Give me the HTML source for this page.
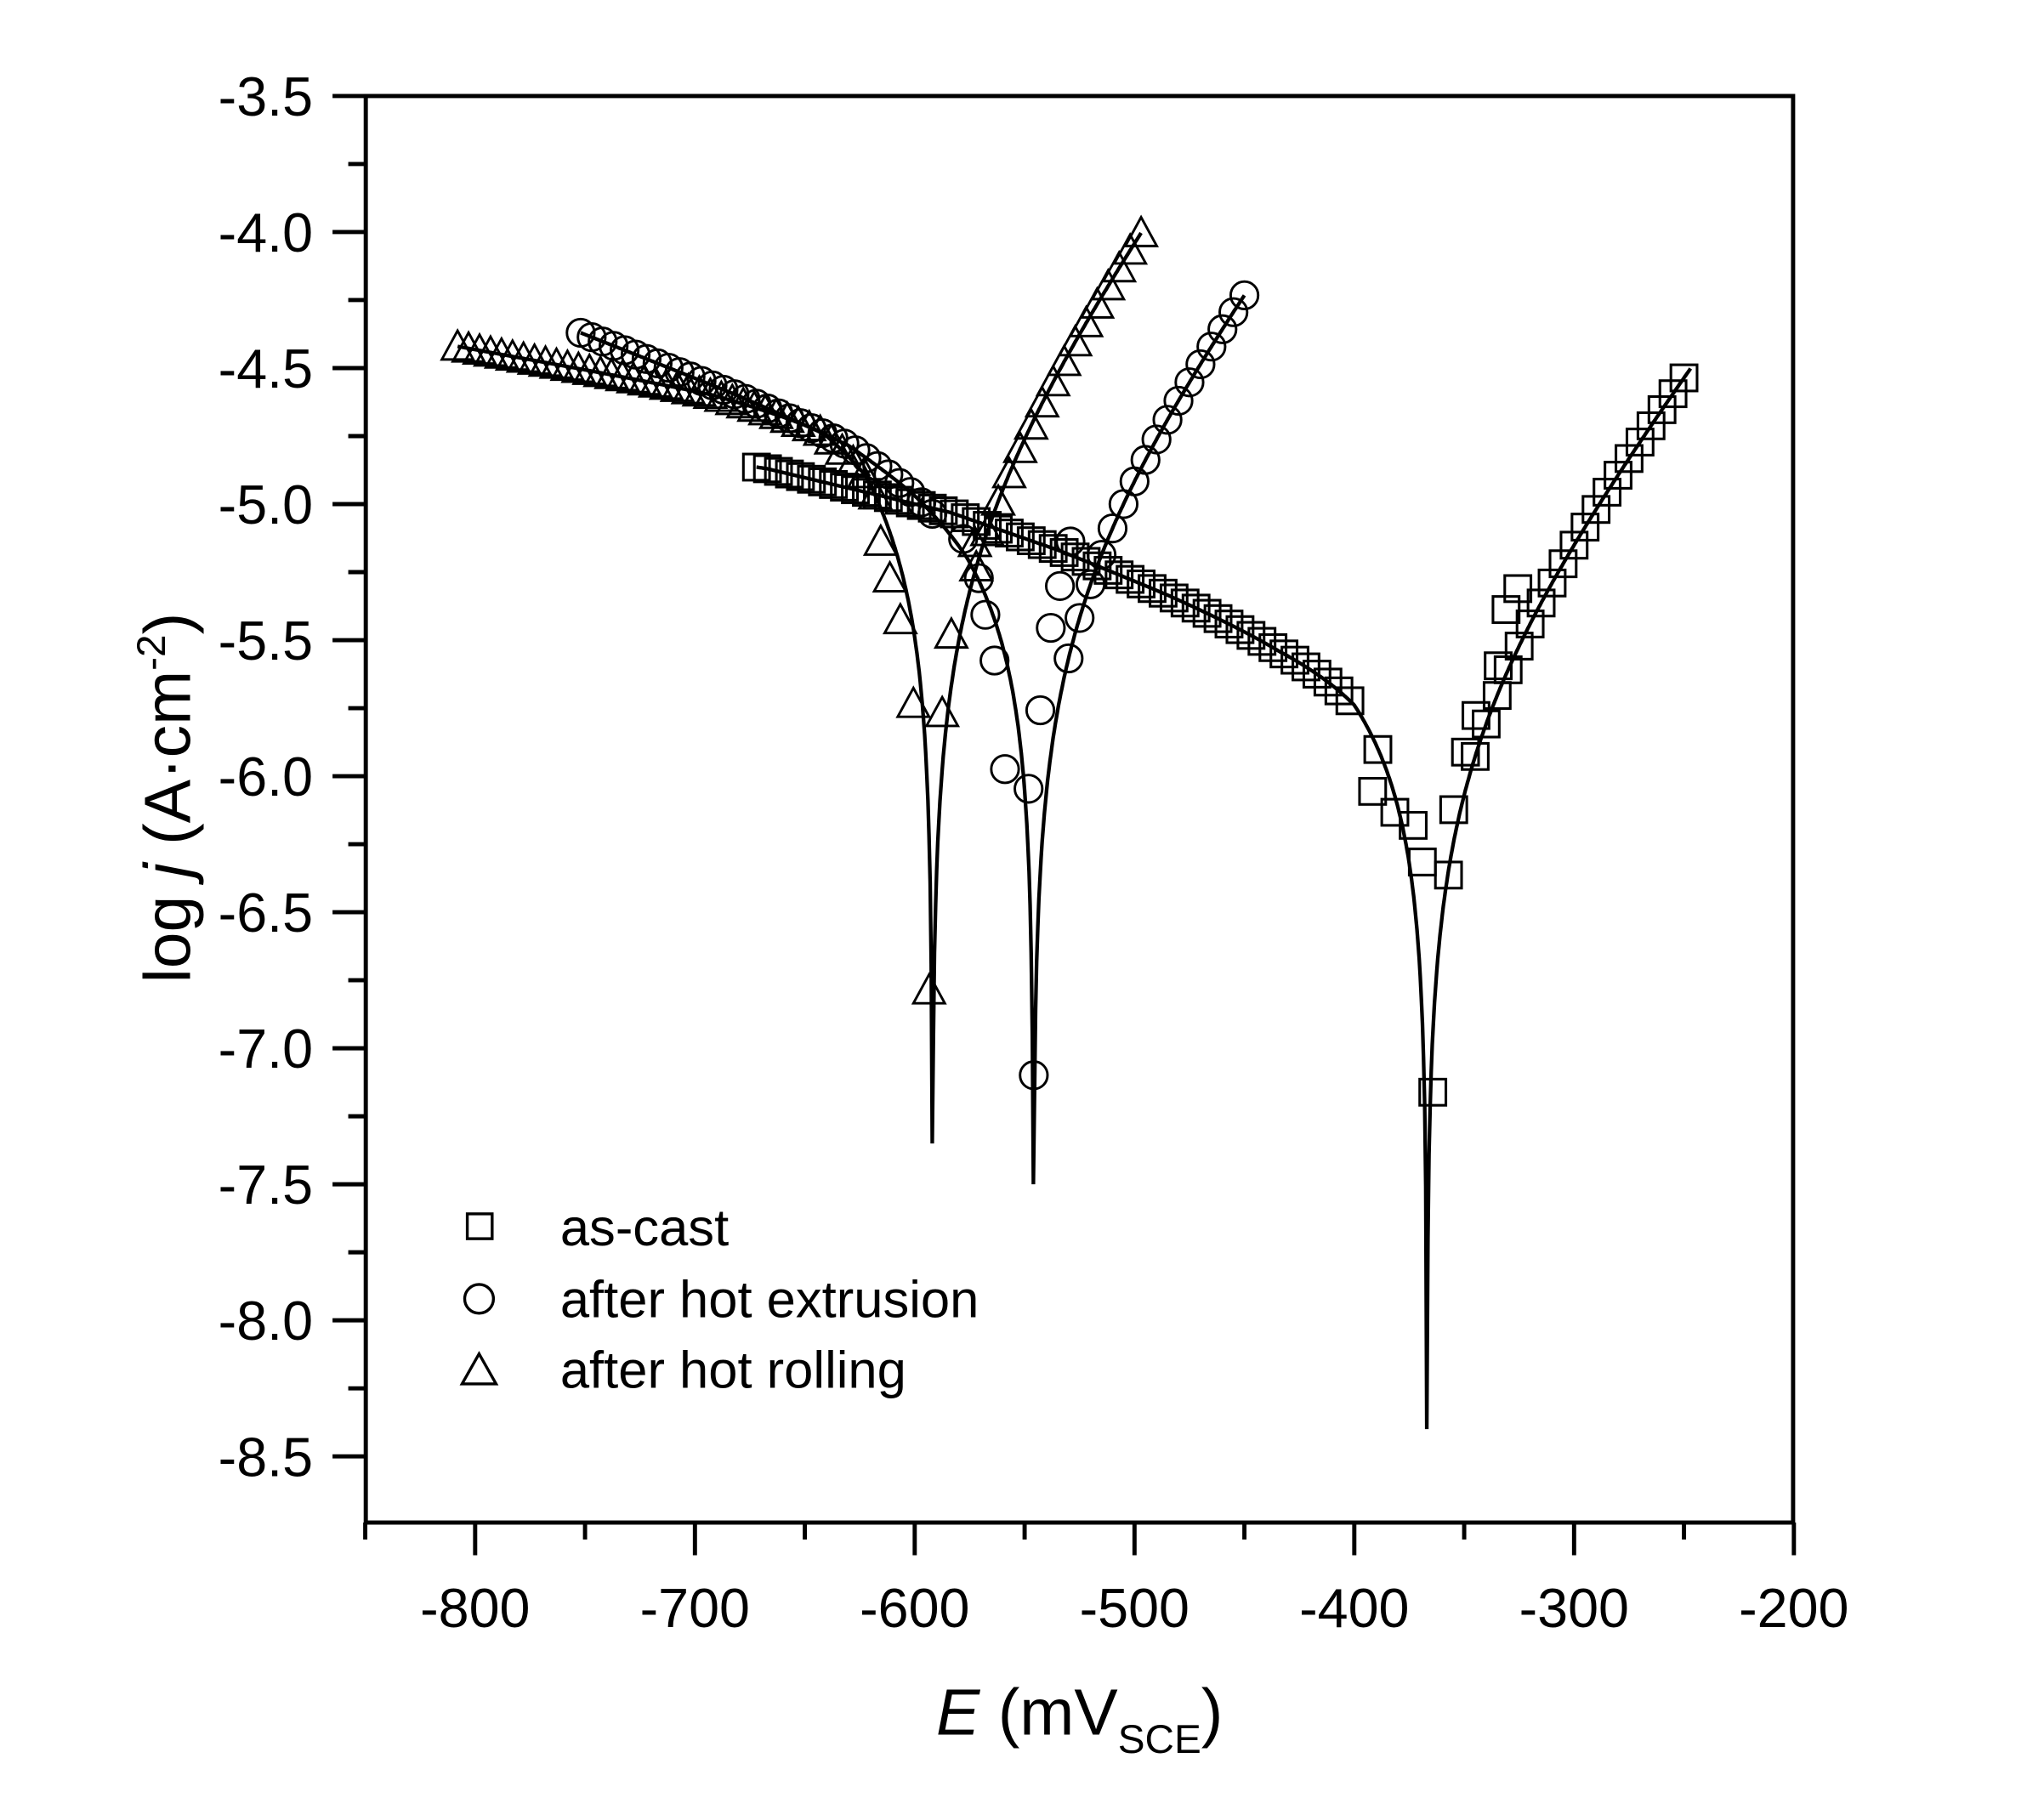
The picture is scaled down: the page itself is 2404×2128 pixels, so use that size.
<!DOCTYPE html>
<html><head><meta charset="utf-8"><style>
html,body{margin:0;padding:0;background:#fff;}
svg{display:block;}
text{font-family:"Liberation Sans",Arial,sans-serif;fill:#000;}
</style></head><body>
<svg id="s" width="2404" height="2128" viewBox="0 0 1562 1383" xmlns="http://www.w3.org/2000/svg">
<rect x="0" y="0" width="1562" height="1383" fill="#fff"/>
<g id="plot"></g>
<rect x="279.4" y="73.4" width="1091" height="1090.6" fill="none" stroke="#000" stroke-width="3.2"/>
<g id="ticks" stroke="#000" stroke-width="3.2"></g>
<g id="labels" font-size="42"></g>
<text transform="translate(145,610) rotate(-90)" font-size="50" text-anchor="middle">log <tspan font-style="italic">j</tspan> (A·cm<tspan dy="-19" font-size="31">-2</tspan><tspan dy="19">)</tspan></text>
<text x="825" y="1326" font-size="50" text-anchor="middle"><tspan font-style="italic">E</tspan> (mV<tspan dy="14" font-size="31">SCE</tspan><tspan dy="-14">)</tspan></text>
<g font-size="40">
<rect x="357" y="928" width="19" height="19" fill="none" stroke="#000" stroke-width="2.2"/>
<text x="428" y="952">as-cast</text>
<circle cx="366" cy="993" r="11" fill="none" stroke="#000" stroke-width="2.2"/>
<text x="428" y="1007">after hot extrusion</text>
<polygon points="353,1058 379,1058 366,1035" fill="none" stroke="#000" stroke-width="2.2"/>
<text x="428" y="1061">after hot rolling</text>
</g>
</svg>
<script>
var NS="http://www.w3.org/2000/svg";
function X(E){return 363+(E+800)*1.68;}
function Y(L){return 73.4+(-3.5-L)*208;}
function el(tag,attrs,parent){var e=document.createElementNS(NS,tag);for(var k in attrs)e.setAttribute(k,attrs[k]);(parent||document.getElementById('plot')).appendChild(e);return e;}
function interp(pts,d){if(d<=pts[0][0])return pts[0][1];for(var i=1;i<pts.length;i++){if(d<=pts[i][0]){var a=pts[i-1],b=pts[i];return a[1]+(b[1]-a[1])*(d-a[0])/(b[0]-a[0]);}}var a=pts[pts.length-2],b=pts[pts.length-1];return b[1]+(b[1]-a[1])*(d-b[0])/(b[0]-a[0]);}
function model(s,E){var A=s.li0+(E-s.Ec)*s.sa;var C=s.li0+interp(s.g,s.Ec-E);return Math.log10(Math.abs(Math.pow(10,A)-Math.pow(10,C))+1e-12);}
var series=[
 {type:'tri',Ec:-592,li0:-5.09,sa:0.0118,g:[[0,0],[30,0.3],[50,0.4],[100,0.5],[216,0.67]],min:-7.35,range:[-808,-497],cat:[-808,-618],an:[-572,-497],
  extra:[[710,757],[698,538],[720,545],[688,474],[727,485],[680,442],[673,414],[745,415]]},
 {type:'cir',Ec:-546,li0:-5.28,sa:0.0113,g:[[0,0],[30,0.22],[54,0.36],[84,0.51],[134,0.68],[206,0.91]],min:-7.5,range:[-752,-450],cat:[-752,-592],an:[-530,-450],
  extra:[[790,822],[786,603],[768,588],[760,505],[753,470],[748,442],[736,412],[795,543],[803,480],[810,448],[818,414]]},
 {type:'sq',Ec:-367,li0:-5.80,sa:0.011,g:[[0,0],[33,0.2],[67,0.3],[117,0.47],[167,0.63],[217,0.77],[300,0.93],[400,1.05]],min:-8.4,range:[-672,-247],cat:[-672,-400],an:[-345,-247],
  extra:[[1053,573],[1049,605],[1066,621],[1080,631],[1087,659],[1095,835],[1107,669],[1111,619],[1120,575],[1128,547],[1145,509],[1151,466],[1160,450]]}
];
series.forEach(function(s){
  var pts=[];
  for(var E=s.range[0];E<=s.range[1]+0.01;E+=0.5){
    if(Math.abs(E-s.Ec)<0.3){pts.push([X(s.Ec),Y(s.min)]);continue;}
    var L=model(s,E);if(L<s.min)L=s.min;pts.push([X(E),Y(L)]);
  }
  pts.push([X(s.Ec),Y(s.min)]);pts.sort(function(a,b){return a[0]-b[0];});
  el('polyline',{points:pts.map(function(p){return p[0].toFixed(1)+','+p[1].toFixed(1);}).join(' '),fill:'none',stroke:'#000','stroke-width':2.8});
  var mk=[];
  for(var E=s.cat[0];E<=s.cat[1];E+=5)mk.push([X(E),Y(model(s,E))]);
  for(var E=s.an[0];E<=s.an[1];E+=5)mk.push([X(E),Y(model(s,E))]);
  s.extra.forEach(function(p){mk.push(p);});
  mk.forEach(function(p){
    var x=p[0],y=p[1];
    if(s.type=='sq')el('rect',{x:x-10,y:y-10,width:20,height:20,fill:'none',stroke:'#000','stroke-width':2});
    else if(s.type=='cir')el('circle',{cx:x,cy:y,r:10.5,fill:'none',stroke:'#000','stroke-width':1.9});
    else el('polygon',{points:(x-12)+','+(y+10)+' '+(x+12)+','+(y+10)+' '+x+','+(y-12),fill:'none',stroke:'#000','stroke-width':1.9});
  });
});
var T=document.getElementById('ticks'),Lb=document.getElementById('labels');
for(var i=0;i<=21;i++){
  var L=-3.5-i*0.25;var y=Y(L);if(y>1164)break;
  var major=(i%2==0);
  el('line',{x1:279.4,y1:y,x2:major?254:266,y2:y},T);
  if(major){var t=el('text',{x:239,y:y+15,'text-anchor':'end'},Lb);t.textContent=L.toFixed(1);}
}
for(var E=-850;E<=-200;E+=50){
  var x=X(E);var major=(E%100==0);
  el('line',{x1:x,y1:1164,x2:x,y2:major?1189:1177},T);
  if(major){var t=el('text',{x:x,y:1244,'text-anchor':'middle'},Lb);t.textContent=E;}
}
</script>
</body></html>
